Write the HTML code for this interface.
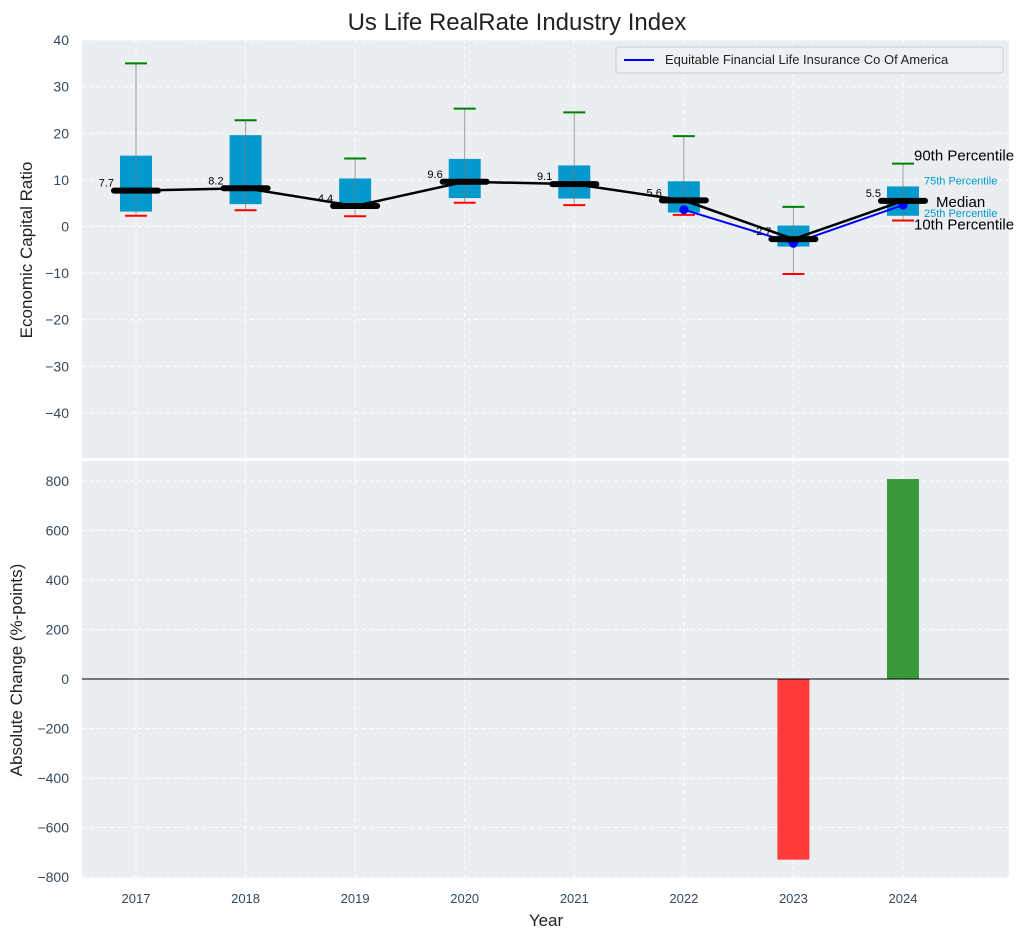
<!DOCTYPE html>
<html><head><meta charset="utf-8"><style>
body{margin:0;background:#fff;font-family:"Liberation Sans",sans-serif}
svg text{font-family:"Liberation Sans",sans-serif}
</style></head><body>
<svg id="c" width="1034" height="940" xmlns="http://www.w3.org/2000/svg"></svg>
<script>
const years=[2017,2018,2019,2020,2021,2022,2023,2024];
const p10=[2.3,3.5,2.2,5.1,4.6,2.5,-10.2,1.3];
const p25=[3.2,4.8,4.0,6.1,6.0,3.0,-4.3,2.3];
const med=[7.7,8.2,4.4,9.6,9.1,5.6,-2.7,5.5];
const p75=[15.2,19.6,10.3,14.5,13.1,9.7,0.2,8.6];
const p90=[35,22.8,14.6,25.3,24.5,19.4,4.2,13.5];
const compYears=[2022,2023,2024];
const compVals=[3.6,-3.6,4.6];
const changeYears=[2023,2024];
const changeVals=[-730,808];
const topTicks=[40,30,20,10,0,-10,-20,-30,-40];
const botTicks=[800,600,400,200,0,-200,-400,-600,-800];
const NS="http://www.w3.org/2000/svg";
const svg=document.getElementById('c');
function el(t,a,txt){const e=document.createElementNS(NS,t);for(const k in a)e.setAttribute(k,a[k]);if(txt!=null)e.textContent=txt;svg.appendChild(e);return e;}
const fmt=v=>String(v).replace('-','\u2212');
const L=82,R=1009;
const x=v=>136+(v-2017)*109.57;
const yT=v=>226.5-v*4.66;
const yB=v=>679-v*0.2475;
let e=el('rect',{x:L,y:40,width:R-L,height:418,fill:'#eaeef0'});

e=el('rect',{x:L,y:461,width:R-L,height:417,fill:'#eaeef0'});

years.forEach(yr=>{el('line',{x1:x(yr),x2:x(yr),y1:40,y2:458,stroke:'#fff','stroke-dasharray':'4,3'});el('line',{x1:x(yr),x2:x(yr),y1:461,y2:878,stroke:'#fff','stroke-dasharray':'4,3'});
 e=el('text',{x:x(yr),y:903,'text-anchor':'middle','font-size':13,fill:'#34495e'},yr);});
topTicks.forEach(t=>{el('line',{x1:L,x2:R,y1:yT(t),y2:yT(t),stroke:'#fff','stroke-dasharray':'4,3'});
 e=el('text',{x:69,y:yT(t)+5,'text-anchor':'end','font-size':14,fill:'#34495e'},fmt(t));});
botTicks.forEach(t=>{el('line',{x1:L,x2:R,y1:yB(t),y2:yB(t),stroke:'#fff','stroke-dasharray':'4,3'});
 e=el('text',{x:69,y:yB(t)+5,'text-anchor':'end','font-size':14,fill:'#34495e'},fmt(t));});
years.forEach((yr,i)=>{const cx=x(yr);
 e=el('rect',{x:cx-16,y:yT(p75[i]),width:32,height:yT(p25[i])-yT(p75[i]),fill:'#0399cc'});
 
 el('line',{x1:cx,x2:cx,y1:yT(p90[i]),y2:yT(p10[i]),stroke:'#777','stroke-width':1,opacity:0.7});
 el('line',{x1:cx-11,x2:cx+11,y1:yT(p90[i]),y2:yT(p90[i]),stroke:'green','stroke-width':2});
 el('line',{x1:cx-11,x2:cx+11,y1:yT(p10[i]),y2:yT(p10[i]),stroke:'red','stroke-width':2});
});
e=el('polyline',{points:years.map((yr,i)=>x(yr)+','+yT(med[i])).join(' '),fill:'none',stroke:'#000','stroke-width':2.5});

e=el('polyline',{points:compYears.map((yr,i)=>x(yr)+','+yT(compVals[i])).join(' '),fill:'none',stroke:'blue','stroke-width':2});

compYears.forEach((yr,i)=>{e=el('circle',{cx:x(yr),cy:yT(compVals[i]),r:4.5,fill:'blue'});});
years.forEach((yr,i)=>{const cx=x(yr);
 e=el('line',{x1:cx-22,x2:cx+22,y1:yT(med[i]),y2:yT(med[i]),stroke:'#000','stroke-width':6,'stroke-linecap':'round'});
 
 e=el('text',{x:cx-22,y:yT(med[i])-4,'text-anchor':'end','font-size':11,fill:'#000'},med[i]);
 
});
const li=years.length-1,lx=x(years[li])+11;
[['90th Percentile',yT(p90[li])-3,15,'#000',0],['75th Percentile',yT(p75[li])-2,11,'#0399cc',10],['Median',yT(med[li])+6,15,'#000',22],['25th Percentile',yT(p25[li])+1,11,'#0399cc',10],['10th Percentile',yT(p10[li])+9,15,'#000',0]].forEach(a=>{
 e=el('text',{x:lx+a[4],y:a[1],'font-size':a[2],fill:a[3]},a[0]);});
changeYears.forEach((yr,i)=>{const v=changeVals[i];
 e=el('rect',{x:x(yr)-16,y:Math.min(yB(v),yB(0)),width:32,height:Math.abs(yB(v)-yB(0)),fill:v<0?'#ff3b3b':'#3a9a3a'});
 });
el('line',{x1:L,x2:R,y1:yB(0),y2:yB(0),stroke:'#000','stroke-width':1});
e=el('rect',{x:616,y:47,width:387,height:26,fill:'#eef1f3',stroke:'#ccc',rx:3});
el('line',{x1:624,x2:654,y1:60,y2:60,stroke:'blue','stroke-width':2});
e=el('text',{x:665,y:64,'font-size':13,fill:'#222'},'Equitable Financial Life Insurance Co Of America');
e=el('text',{x:517,y:30,'text-anchor':'middle','font-size':24,fill:'#222'},'Us Life RealRate Industry Index');
e=el('text',{x:546,y:926,'text-anchor':'middle','font-size':17,fill:'#222'},'Year');
e=el('text',{x:32,y:250,'text-anchor':'middle','font-size':17,fill:'#222',transform:'rotate(-90 32 250)'},'Economic Capital Ratio');
e=el('text',{x:22,y:670,'text-anchor':'middle','font-size':17,fill:'#222',transform:'rotate(-90 22 670)'},'Absolute Change (%-points)');
</script>
</body></html>
